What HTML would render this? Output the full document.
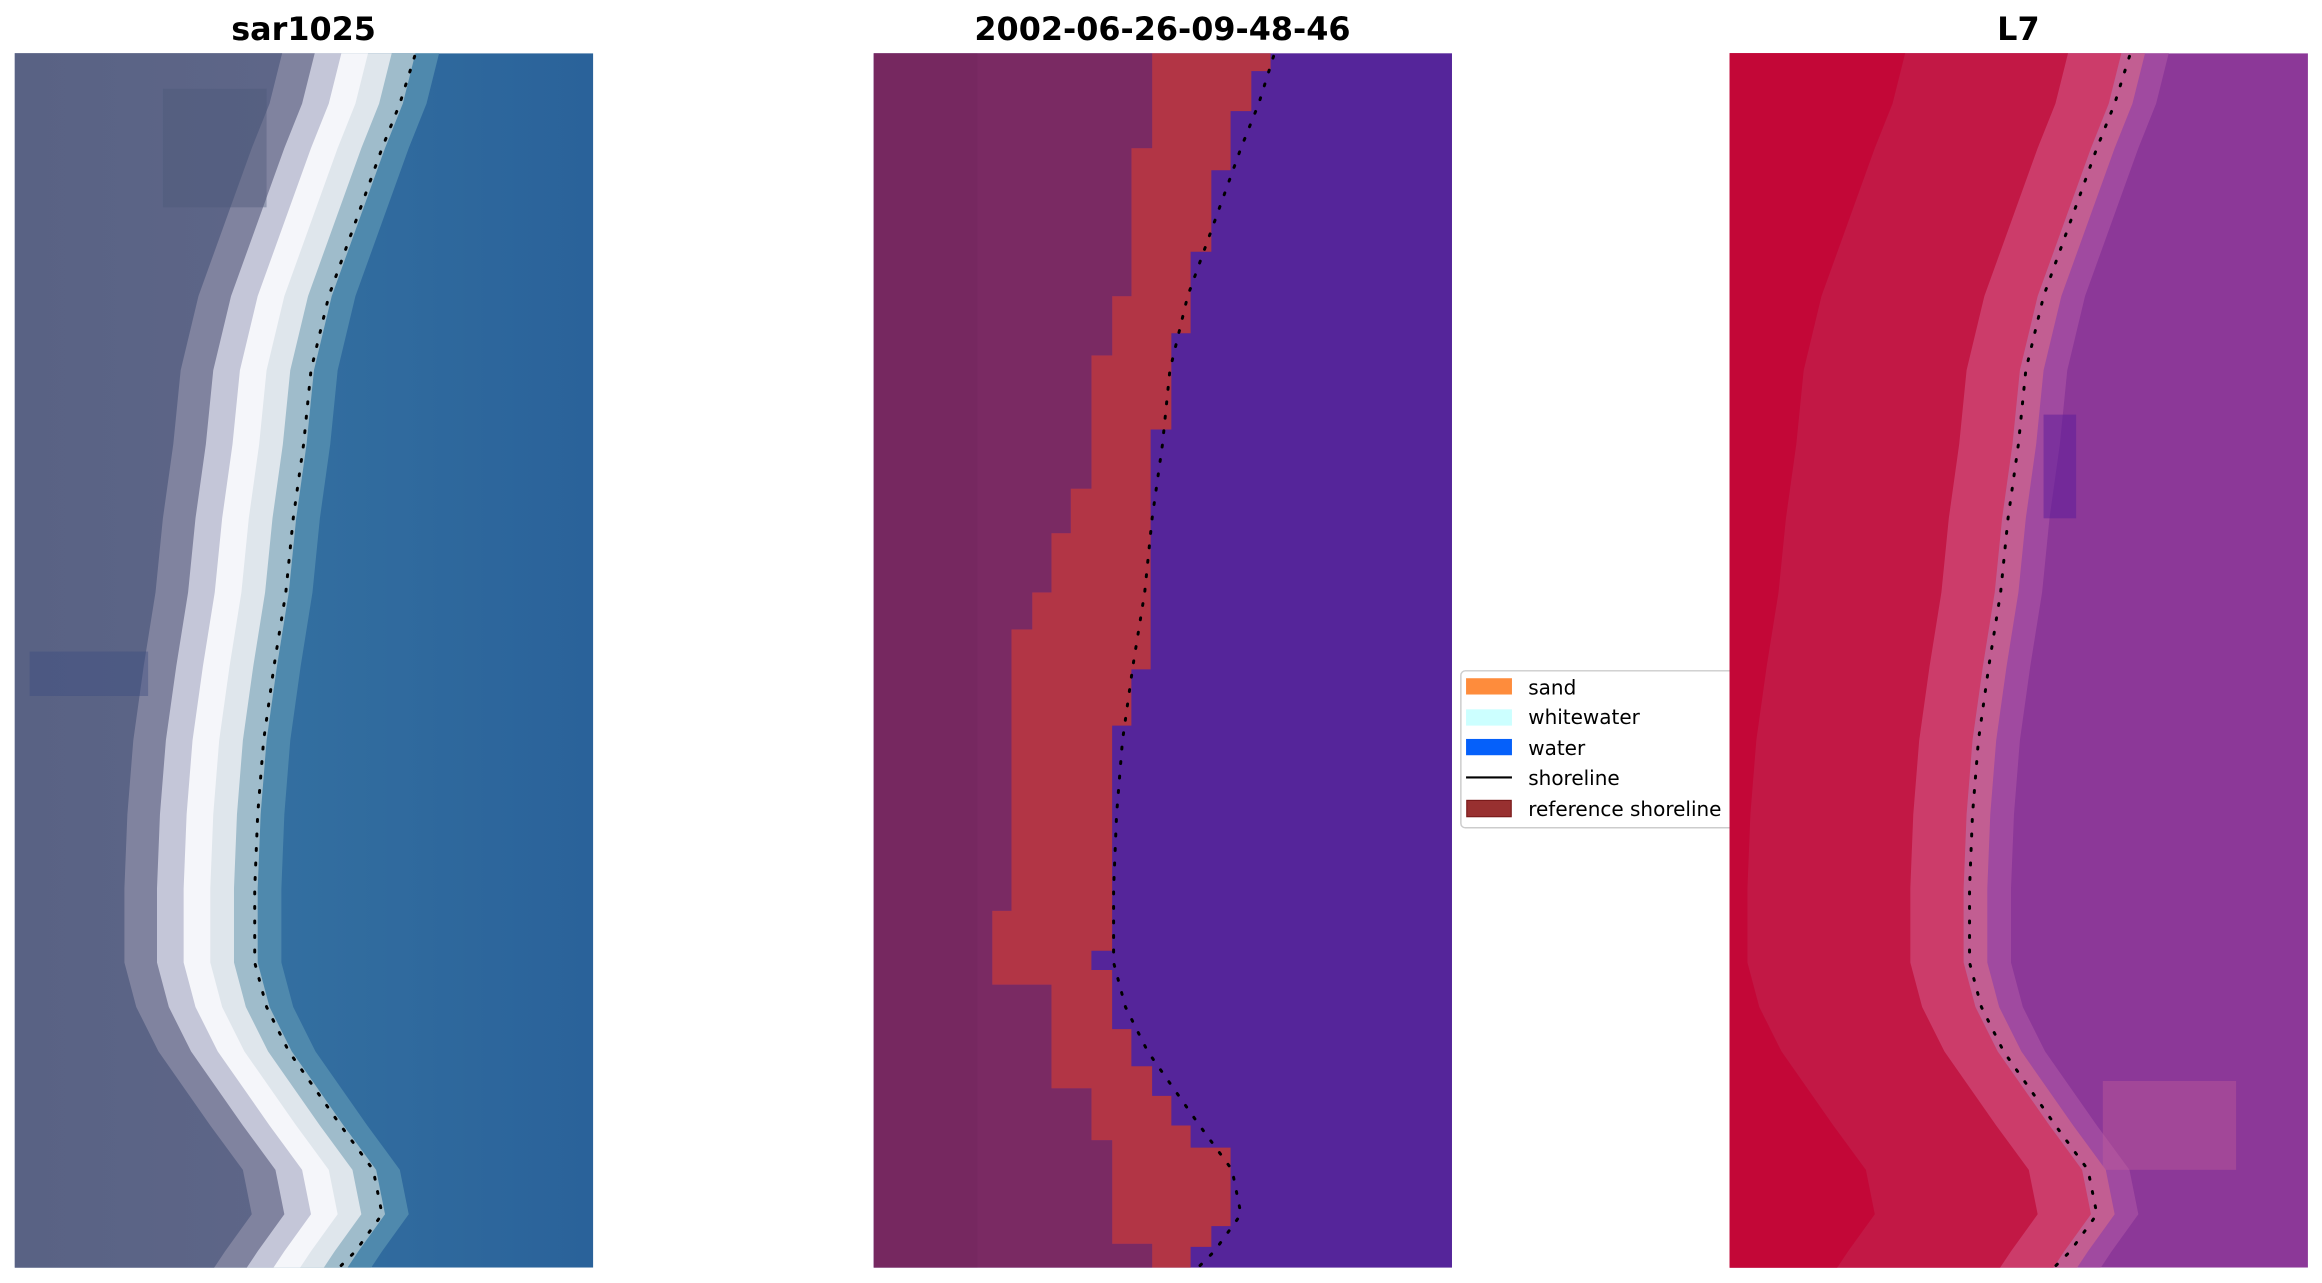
<!DOCTYPE html>
<html><head><meta charset="utf-8"><style>
html,body{margin:0;padding:0;background:#fff;}
svg{display:block;}
text{font-family:"DejaVu Sans","Liberation Sans",sans-serif;}
</style></head><body>
<svg width="2322" height="1283" viewBox="0 0 1568 866.4" xmlns="http://www.w3.org/2000/svg">
<defs>
<path id="L" d="M280,30 L270,70 L258,100 L240,150 L222,200 L210,250 L205,300 L198,350 L193,400 L185,450 L178,500 L174,550 L172,600 L172,650 L180,680 L195,710 L230,760 L252,790 L258,820 L240,845 L230,860 L-400,860 L-400,30 Z"/>
<path id="S" d="M280,38 L270,70 L258,100 L240,150 L222,200 L210,250 L205,300 L198,350 L193,400 L185,450 L178,500 L174,550 L172,600 L172,650 L180,680 L195,710 L230,760 L252,790 L258,820 L240,845 L230,855" fill="none" stroke="#000" stroke-width="2" stroke-dasharray="1.3 8.5" stroke-linecap="round"/>
<clipPath id="c1"><rect x="10" y="36" width="390.5" height="820"/></clipPath>
<clipPath id="c3"><rect x="1168" y="36" width="390.5" height="820"/></clipPath>
<linearGradient id="g1" x1="0" x2="1" y1="0" y2="0"><stop offset="0" stop-color="#4a5779"/><stop offset="1" stop-color="#5e6688"/></linearGradient>
<linearGradient id="w1" x1="0" x2="1"><stop offset="0" stop-color="#3b7aa5"/><stop offset="1" stop-color="#2a629a"/></linearGradient>
</defs>

<text x="205" y="27" text-anchor="middle" font-size="21.5" font-weight="bold">sar1025</text>
<text x="785" y="27" text-anchor="middle" font-size="21.5" font-weight="bold">2002-06-26-09-48-46</text>
<text x="1363" y="27" text-anchor="middle" font-size="21.5" font-weight="bold">L7</text>

<!-- legend (under panel 3) -->
<rect x="986.5" y="453" width="190" height="106" rx="3" fill="#fff" stroke="#ccc" stroke-width="1"/>
<rect x="990" y="458" width="31" height="11" fill="#fe8c3c"/>
<rect x="990" y="479" width="31" height="11" fill="#ccffff"/>
<rect x="990" y="499" width="31" height="11" fill="#0560fa"/>
<line x1="990" y1="525" x2="1021" y2="525" stroke="#000" stroke-width="1.5"/>
<rect x="990.5" y="540.5" width="30" height="11" fill="#983030" stroke="#7a1a1a" stroke-width="0.8"/>
<g font-size="13.5" fill="#000">
<text x="1032" y="469">sand</text>
<text x="1032" y="489">whitewater</text>
<text x="1032" y="510">water</text>
<text x="1032" y="530">shoreline</text>
<text x="1032" y="551">reference shoreline</text>
</g>

<!-- panel 1 -->
<g clip-path="url(#c1)">
<rect x="10" y="36" width="391" height="820" fill="url(#w1)"/>
<use href="#L" transform="translate(18,0)" fill="#4f89ad"/>
<use href="#L" transform="translate(2,0)" fill="#9fbccb"/>
<use href="#L" transform="translate(-14,0)" fill="#dfe6ec"/>
<use href="#L" transform="translate(-30,0)" fill="#f5f6fa"/>
<use href="#L" transform="translate(-48,0)" fill="#c4c6d8"/>
<use href="#L" transform="translate(-66,0)" fill="#80839f"/>
<use href="#L" transform="translate(-88,0)" fill="url(#g1)"/>
<rect x="110" y="60" width="70" height="80" fill="#4a5878" opacity="0.4"/>
<rect x="20" y="440" width="80" height="30" fill="#3a4c80" opacity="0.4"/>
<use href="#S"/>
</g>

<!-- panel 2 -->
<rect x="590" y="36" width="390.5" height="820" fill="#55259a"/>
<polygon fill="#7a2a63" points="590,36 778,36 778,100 764,100 764,200 751,200 751,240 737,240 737,330 723,330 723,360 710,360 710,400 697,400 697,425 683,425 683,615 670,615 670,665 710,665 710,735 737,735 737,770 751,770 751,840 778,840 778,856 590,856"/>
<polygon fill="#b23545" points="778,36 858,36 858,48 845,48 845,75 831,75 831,115 818,115 818,170 804,170 804,225 791,225 791,290 777,290 777,452 764,452 764,490 751,490 751,642 737,642 737,655 751,655 751,695 764,695 764,720 778,720 778,740 791,740 791,760 804,760 804,775 831,775 831,828 818,828 818,842 804,842 804,856 778,856 778,840 751,840 751,770 737,770 737,735 710,735 710,665 670,665 670,615 683,615 683,425 697,425 697,400 710,400 710,360 723,360 723,330 737,330 737,240 751,240 751,200 764,200 764,100 778,100"/>
<rect x="590" y="36" width="70" height="820" fill="#6e2458" opacity="0.3"/>
<g transform="translate(580,0)"><use href="#S"/></g>

<!-- panel 3 -->
<g clip-path="url(#c3)">
<rect x="1168" y="36" width="391" height="820" fill="#8c3898"/>
<g transform="translate(1158,0)">
<use href="#L" transform="translate(28,0)" fill="#a04aa0"/>
<use href="#L" transform="translate(12,0)" fill="#c25e92"/>
<use href="#L" transform="translate(-4,0)" fill="#cc3c6a"/>
<use href="#L" transform="translate(-40,0)" fill="#c21845"/>
<use href="#L" transform="translate(-150,0)" fill="#c30737"/>
</g>
<rect x="1380" y="280" width="22" height="70" fill="#5a1a9a" opacity="0.5"/>
<rect x="1420" y="730" width="90" height="60" fill="#c46098" opacity="0.4"/>
<g transform="translate(1158,0)"><use href="#S"/></g>
</g>
</svg>
</body></html>
